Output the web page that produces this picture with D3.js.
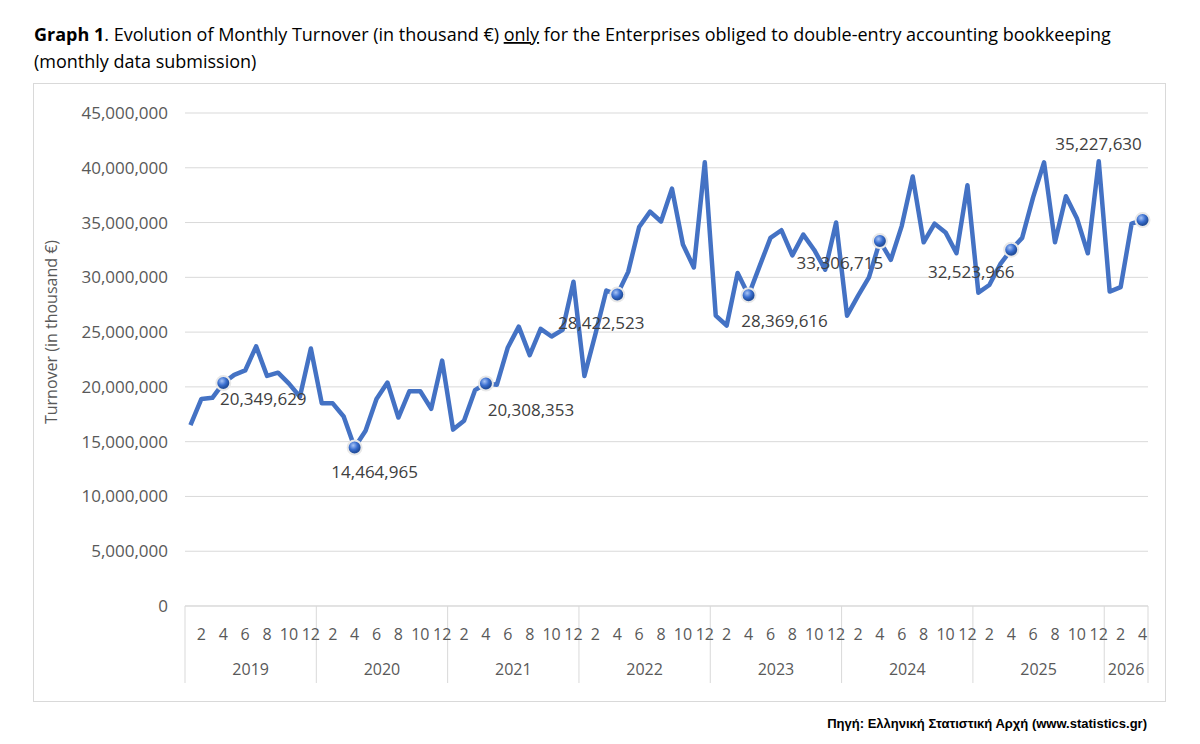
<!DOCTYPE html>
<html><head><meta charset="utf-8">
<script src="https://cdn.jsdelivr.net/npm/d3@7"></script>
<style>body{margin:0;background:#fff;font-family:"Open Sans",sans-serif}</style>
</head><body><svg id="c" width="1200" height="744"></svg>
<script>
const years=[2019,2020,2021,2022,2023,2024,2025,2026];
const values=[
16.5,18.9,19.0,20.349629,21.1,21.5,23.7,21.0,21.3,20.3,19.1,23.5,
18.5,18.5,17.3,14.464965,16.0,18.9,20.4,17.2,19.6,19.6,18.0,22.4,
16.1,16.9,19.7,20.308353,20.2,23.6,25.5,22.9,25.3,24.6,25.2,29.6,
21.0,24.8,28.8,28.422523,30.5,34.6,36.0,35.1,38.1,33.0,30.9,40.5,
26.5,25.6,30.4,28.369616,31.0,33.6,34.3,32.0,33.9,32.5,30.7,35.0,
26.5,28.3,30.0,33.306715,31.6,34.7,39.2,33.2,34.9,34.1,32.2,38.4,
28.6,29.3,31.2,32.523966,33.6,37.3,40.5,33.2,37.4,35.4,32.2,40.6,
28.7,29.1,34.9,35.227630].map(v=>v*1e6);
const labels=[[3,"20,349,629",40,22],[15,"14,464,965",20,30],[27,"20,308,353",45,32],[39,"28,422,523",-16,34],
[51,"28,369,616",36,32],[63,"33,306,715",-40,28],[75,"32,523,966",-40,28],[87,"35,227,630",-44,-70]];
const yTicks=d3.range(0,45000001,5000000);
const svg=d3.select("#c");
svg.append("rect").attr("x",33.5).attr("y",83.5).attr("width",1132).attr("height",618).attr("fill","none").attr("stroke","#d9d9d9");
const t=svg.append("text").attr("x",34).attr("y",41).attr("font-size",18).attr("fill","#000");
t.append("tspan").attr("font-weight","bold").text("Graph 1");
t.append("tspan").text(". Evolution of Monthly Turnover (in thousand €) ");
t.append("tspan").attr("text-decoration","underline").text("only");
t.append("tspan").text(" for the Enterprises obliged to double-entry accounting bookkeeping");
svg.append("text").attr("x",34).attr("y",68).attr("font-size",18).text("(monthly data submission)");
const L=185,R=1148,n=88,step=(R-L)/n;
const x=i=>L+step*(i+0.5);
const y=d3.scaleLinear().domain([0,45000000]).range([606,113]);
svg.append("g").selectAll("line").data(yTicks).join("line").attr("x1",L).attr("x2",R).attr("y1",d=>y(d)).attr("y2",d=>y(d)).attr("stroke","#d9d9d9");
svg.append("g").selectAll("text").data(yTicks).join("text").attr("x",168).attr("y",d=>y(d)+6).attr("text-anchor","end").attr("font-size",17).attr("fill","#595959").text(d=>d3.format(",")(d));
svg.append("text").attr("transform","translate(57,332) rotate(-90)").attr("text-anchor","middle").attr("font-size",16).attr("fill","#595959").text("Turnover (in thousand €)");
// x axis
const gx=svg.append("g");
const bounds=years.map((yr,k)=>L+step*12*k).concat([R]);
gx.selectAll("line").data(bounds).join("line").attr("x1",d=>d).attr("x2",d=>d).attr("y1",606).attr("y2",683).attr("stroke","#d9d9d9");
gx.append("line").attr("x1",L).attr("x2",R).attr("y1",606).attr("y2",606).attr("stroke","#d9d9d9");
const months=d3.range(n).filter(i=>(i%12)%2==1);
gx.selectAll("text.m").data(months).join("text").attr("class","m").attr("x",i=>x(i)).attr("y",640).attr("text-anchor","middle").attr("font-size",16).attr("fill","#595959").text(i=>(i%12)+1);
gx.selectAll("text.y").data(years).join("text").attr("class","y").attr("x",(d,k)=>(bounds[k]+bounds[k+1])/2).attr("y",675).attr("text-anchor","middle").attr("font-size",16).attr("fill","#595959").text(d=>d);
// line
const line=d3.line().x((d,i)=>x(i)).y(d=>y(d));
svg.append("path").datum(values).attr("d",line).attr("fill","none").attr("stroke","#4472c4").attr("stroke-width",4.5).attr("stroke-linejoin","round");
const defs=svg.append("defs");
const rg=defs.append("radialGradient").attr("id","g").attr("cx","40%").attr("cy","35%");
rg.append("stop").attr("offset","0%").attr("stop-color","#a9c4f5");
rg.append("stop").attr("offset","60%").attr("stop-color","#3a6fd0");
rg.append("stop").attr("offset","100%").attr("stop-color","#24509e");
labels.forEach(([i,s,dx,dy])=>{
 svg.append("circle").attr("cx",x(i)).attr("cy",y(values[i])).attr("r",7).attr("fill","url(#g)").attr("stroke","#e8e8e8").attr("stroke-width",2);
 svg.append("text").attr("x",x(i)+dx).attr("y",y(values[i])+dy).attr("text-anchor","middle").attr("font-size",17).attr("fill","#404040").text(s);
});
svg.append("text").attr("x",1147).attr("y",728).attr("text-anchor","end").attr("font-family","Liberation Sans, Arial").attr("font-weight","bold").attr("font-size",13).text("Πηγή: Ελληνική Στατιστική Αρχή (www.statistics.gr)");
</script></body></html>
